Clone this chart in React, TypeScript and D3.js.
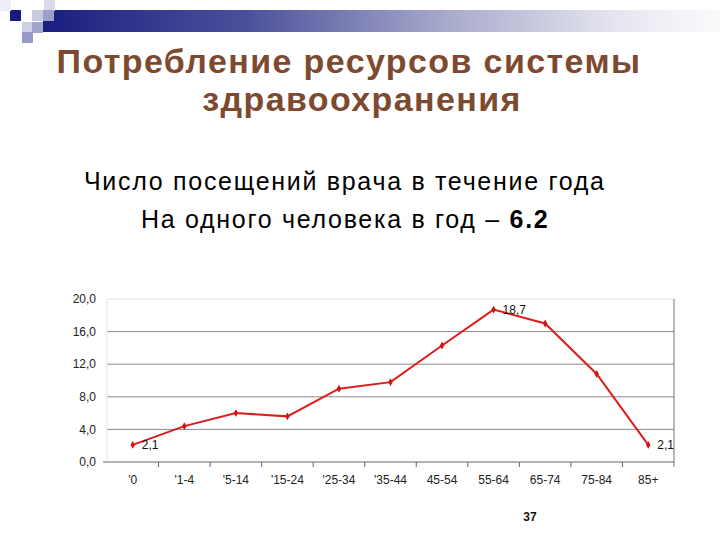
import * as d3 from 'd3'

// возрастные группы и число посещений
const ageGroups = ["'0", "'1-4", "'5-14", "'15-24", "'25-34", "'35-44", '45-54', '55-64', '65-74', '75-84', '85+']
const visits = [2.1, 4.4, 6.0, 5.6, 9.0, 9.8, 14.3, 18.7, 17.0, 10.8, 2.1]
const labelled = [0, 7, 10]
const yTicks = [0, 4, 8, 12, 16, 20]

const titleLines = ['Потребление ресурсов системы', 'здравоохранения']
const titleCenters = [349, 362]

// декоративные квадраты в углу слайда
const squares = [
  { x: 10, y: 10, c: '#161c7e' },
  { x: 44, y: 0, c: '#dadaea' },
  { x: 32, y: 10, c: '#c9cae2' },
  { x: 43, y: 10, c: '#9c9ecb' },
  { x: 0, y: 0, c: '#eeeef6' },
  { x: 22, y: 22, c: '#cfd0e6' },
  { x: 32, y: 22, c: '#a3a5cf' },
  { x: 22, y: 32, c: '#9799c8' },
]

const width = 720
const height = 540
const marginLeft = 107
const marginRight = 46
const plotTop = 299
const plotBottom = 462

const fmt = (v: number) => d3.format('.1f')(v).replace('.', ',')

export default function App() {
  const x = d3
    .scaleBand()
    .domain(ageGroups)
    .range([marginLeft, width - marginRight])
  const y = d3.scaleLinear().domain([0, 20]).range([plotBottom, plotTop])

  const pts = visits.map((v, i) => [x(ageGroups[i])! + x.bandwidth() / 2, y(v)] as [number, number])
  const line = d3.line()(pts)
  const marker = d3.symbol().type(d3.symbolDiamond).size(18)()

  const font = 'Arial, "Liberation Sans", sans-serif'

  return (
    <svg
      width={width}
      height={height}
      style={{ position: 'absolute', left: 0, top: 0, background: '#fff' }}
      fontFamily={font}
    >
      <defs>
        <linearGradient id="bar" x1="0" x2="1" y1="0" y2="0">
          <stop offset="0" stopColor="#1a1f80" />
          <stop offset="0.3" stopColor="#4b509a" />
          <stop offset="0.6" stopColor="#a9abcc" />
          <stop offset="0.85" stopColor="#e6e6f0" />
          <stop offset="1" stopColor="#fbfbfd" />
        </linearGradient>
      </defs>
      <rect x={43} y={10} width={677} height={22} fill="url(#bar)" />
      {squares.map((s, i) => (
        <rect key={i} x={s.x} y={s.y} width={11} height={11} fill={s.c} />
      ))}

      {titleLines.map((t, i) => (
        <text
          key={t}
          x={titleCenters[i]}
          y={73 + i * 38}
          textAnchor="middle"
          fontSize={34}
          letterSpacing={1.4}
          fontWeight="bold"
          fill="#7d4a30"
        >
          {t}
        </text>
      ))}

      <text x={84} y={190} fontSize={25} letterSpacing={1.7} fill="#000">
        Число посещений врача в течение года
      </text>
      <text x={141} y={228} fontSize={25} letterSpacing={1.7} fill="#000">
        На одного человека в год – <tspan fontWeight="bold">6.2</tspan>
      </text>

      {/* сетка и рамка */}
      {yTicks.map((t) => (
        <g key={t}>
          {t > 0 && t < 20 && (
            <line x1={marginLeft} x2={width - marginRight} y1={y(t)} y2={y(t)} stroke="#8a8a8a" strokeWidth={1} />
          )}
          <text x={96} y={y(t)} dy="0.35em" textAnchor="end" fontSize={12} fill="#222">
            {fmt(t)}
          </text>
        </g>
      ))}
      <line x1={marginLeft} x2={width - marginRight} y1={plotTop} y2={plotTop} stroke="#e0e0e0" />
      <line x1={marginLeft} x2={marginLeft} y1={plotTop} y2={plotBottom} stroke="#e4e4e4" />
      <line x1={width - marginRight} x2={width - marginRight} y1={plotTop} y2={plotBottom + 5} stroke="#777" />
      <line x1={103} x2={width - marginRight} y1={plotBottom} y2={plotBottom} stroke="#666" />
      {ageGroups.slice(1).map((g) => (
        <line key={g} x1={x(g)} x2={x(g)} y1={plotBottom} y2={plotBottom + 5} stroke="#666" />
      ))}
      {ageGroups.map((g) => (
        <text key={g} x={x(g)! + x.bandwidth() / 2} y={484} textAnchor="middle" fontSize={12} fill="#222">
          {g}
        </text>
      ))}

      <path d={line!} fill="none" stroke="#dd1c1c" strokeWidth={2} />
      {pts.map((p, i) => (
        <path key={i} d={marker!} transform={`translate(${p[0]},${p[1]})`} fill="#d11414" />
      ))}
      {labelled.map((i) => (
        <text key={i} x={pts[i][0] + 9} y={pts[i][1]} dy="0.35em" fontSize={12} fill="#111">
          {fmt(visits[i])}
        </text>
      ))}

      <text x={530} y={521} textAnchor="middle" fontSize={12} fontWeight="bold" fill="#111">
        37
      </text>
    </svg>
  )
}
